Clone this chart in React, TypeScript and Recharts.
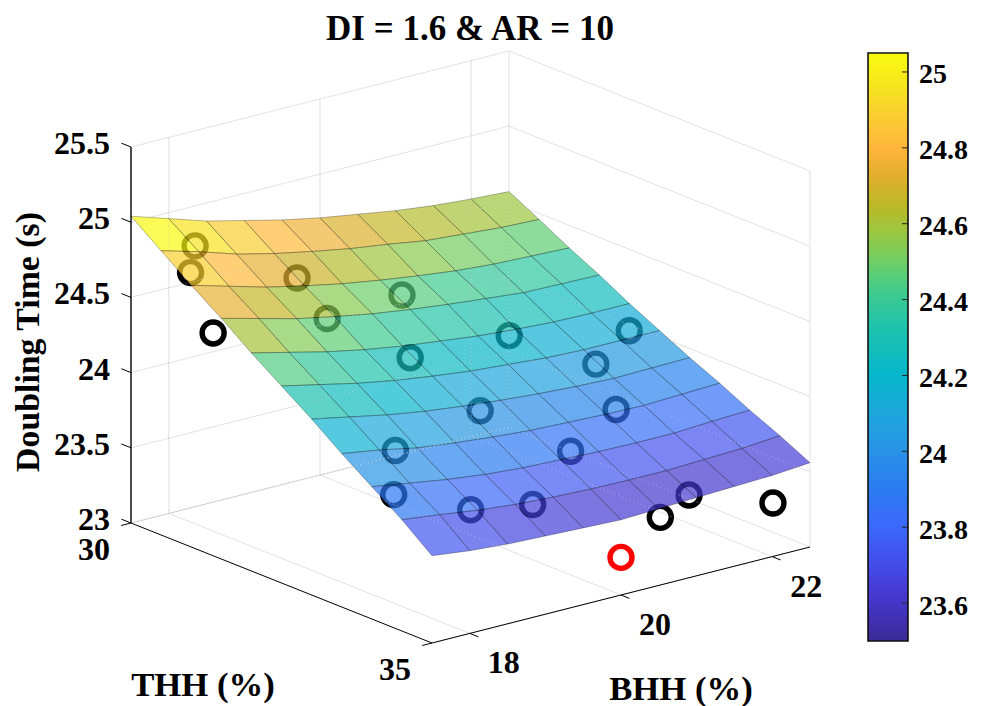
import React from 'react';
import { BarChart, Bar, ScatterChart, Scatter, XAxis, YAxis } from 'recharts';

// grid of the fitted surface
const thhGrid = [30, 30.5, 31, 31.5, 32, 32.5, 33, 33.5, 34, 34.5, 35];
const bhhGrid = [17.5, 18, 18.5, 19, 19.5, 20, 20.5, 21, 21.5, 22, 22.5];
// doubling time, one row per THH value, one column per BHH value
const surfaceTime = [
  [25.04, 24.96, 24.88, 24.82, 24.76, 24.71, 24.67, 24.63, 24.6, 24.58, 24.565],
  [24.89, 24.82, 24.74, 24.68, 24.63, 24.585, 24.55, 24.51, 24.49, 24.47, 24.46],
  [24.74, 24.67, 24.6, 24.545, 24.495, 24.455, 24.42, 24.39, 24.37, 24.36, 24.35],
  [24.6, 24.535, 24.47, 24.42, 24.375, 24.34, 24.31, 24.285, 24.26, 24.255, 24.25],
  [24.45, 24.39, 24.33, 24.28, 24.24, 24.21, 24.18, 24.16, 24.145, 24.14, 24.14],
  [24.31, 24.255, 24.2, 24.155, 24.12, 24.09, 24.07, 24.05, 24.04, 24.04, 24.04],
  [24.17, 24.12, 24.07, 24.03, 24.0, 23.975, 23.955, 23.94, 23.93, 23.935, 23.94],
  [24.02, 23.98, 23.93, 23.9, 23.875, 23.855, 23.845, 23.835, 23.83, 23.84, 23.85],
  [23.88, 23.84, 23.8, 23.77, 23.75, 23.74, 23.73, 23.725, 23.725, 23.74, 23.75],
  [23.74, 23.71, 23.675, 23.65, 23.635, 23.625, 23.62, 23.62, 23.63, 23.64, 23.66],
  [23.58, 23.55, 23.53, 23.52, 23.51, 23.5, 23.51, 23.52, 23.53, 23.54, 23.56],
];

// measured samples
const sampleThh = [30.5, 30.5, 31, 31, 31.5, 31.5, 32, 32, 32.5, 33, 33, 33.5, 33.5, 34, 34, 34.5, 34.5, 35, 35, 35];
const sampleBhh = [17.95, 17.89, 17.79, 18.9, 18.9, 19.89, 19.6, 20.91, 22.1, 21.26, 19.73, 21.13, 18.21, 20.13, 17.79, 18.41, 19.23, 20.9, 20.52, 22.01];
const sampleTime = [24.865, 24.695, 24.386, 24.61, 24.42, 24.45, 24.15, 24.13, 24.09, 24.055, 23.94, 23.85, 23.95, 23.78, 23.79, 23.69, 23.62, 23.55, 23.45, 23.355];
const bestThh = [35];
const bestBhh = [20];
const bestTime = [23.25];

const timeTicks = [23, 23.5, 24, 24.5, 25, 25.5];
const thhTicks = [30, 35];
const bhhTicks = [18, 20, 22];
const colorbarTicks = [23.6, 23.8, 24, 24.2, 24.4, 24.6, 24.8, 25];
const colorbarDomain = [23.5, 25.05];

const mapValues = [25.05, 24.95, 24.85, 24.8, 24.72, 24.65, 24.58, 24.5, 24.42, 24.33, 24.2, 24.1, 24, 23.9, 23.8, 23.72, 23.62, 23.5];
const mapColors = ['#f9fb0e', '#f6e122', '#fcc436', '#ffb53b', '#dfae2c', '#bdb926', '#9dc63f', '#6fcf66', '#3fcb8e', '#1fc3ab', '#06b6cc', '#1ea7dc', '#2992e6', '#2b7cf2', '#3c68fb', '#4350ee', '#4638cf', '#3c2a96'];

const SERIF = '"Liberation Serif", serif';

function hexToRgb(hex: string) {
  return [1, 3, 5].map((i) => parseInt(hex.slice(i, i + 2), 16));
}

function colorOf(value: number) {
  for (let i = 0; i < mapValues.length - 1; i++) {
    if (value <= mapValues[i] && value >= mapValues[i + 1]) {
      const t = (mapValues[i] - value) / (mapValues[i] - mapValues[i + 1]);
      const a = hexToRgb(mapColors[i]);
      const b = hexToRgb(mapColors[i + 1]);
      return `rgb(${a.map((c, k) => Math.round(c + (b[k] - c) * t)).join(',')})`;
    }
  }
  return value > mapValues[0] ? mapColors[0] : mapColors[mapColors.length - 1];
}

// fixed view of the 3D box, screen units per data unit
function project(thh: number, bhh: number, time: number) {
  return {
    x: 131 + (thh - 30) * 60.2 + (bhh - 17.5) * 75.6,
    y: 523 + (thh - 30) * 24 - (bhh - 17.5) * 19.2 - (time - 23) * 150.4,
  };
}

const THH_MIN = thhGrid[0];
const THH_MAX = thhGrid[thhGrid.length - 1];
const BHH_MIN = bhhGrid[0];
const BHH_MAX = bhhGrid[bhhGrid.length - 1];
const T_MIN = timeTicks[0];
const T_MAX = timeTicks[timeTicks.length - 1];

const noDot = () => <g />;

const Path3D = ({ pts, stroke, width = 1, opacity = 1, dash }: any) => (
  <Scatter
    data={pts.map((p: number[]) => project(p[0], p[1], p[2]))}
    isAnimationActive={false}
    shape={noDot}
    line={(props: any) => (
      <polyline
        points={props.points.map((q: any) => `${q.x},${q.y}`).join(' ')}
        fill="none"
        stroke={stroke}
        strokeWidth={width}
        strokeOpacity={opacity}
        strokeDasharray={dash}
      />
    )}
  />
);

// recharts only picks up direct children, so these are plain functions returning elements
function line3D(key: string, pts: number[][], stroke: string, width = 1, opacity = 1, dash?: string) {
  return React.cloneElement(Path3D({ pts, stroke, width, opacity, dash }), { key });
}

function gridLines(stroke: string, width: number, opacity: number, dash?: string) {
  const out: React.ReactElement[] = [];
  const p = `${stroke}${dash}`;
  timeTicks.forEach((t) => {
    out.push(line3D(`${p}zl${t}`, [[THH_MIN, BHH_MIN, t], [THH_MIN, BHH_MAX, t], [THH_MAX, BHH_MAX, t]], stroke, width, opacity, dash));
  });
  bhhTicks.forEach((b) => {
    out.push(line3D(`${p}bl${b}`, [[THH_MAX, b, T_MIN], [THH_MIN, b, T_MIN], [THH_MIN, b, T_MAX]], stroke, width, opacity, dash));
  });
  thhTicks.forEach((t) => {
    out.push(line3D(`${p}tl${t}`, [[t, BHH_MIN, T_MIN], [t, BHH_MAX, T_MIN], [t, BHH_MAX, T_MAX]], stroke, width, opacity, dash));
  });
  return out;
}

function surfaceCells() {
  const out: React.ReactElement[] = [];
  for (let i = 0; i < thhGrid.length - 1; i++) {
    for (let j = 0; j < bhhGrid.length - 1; j++) {
      const corners = [
        project(thhGrid[i], bhhGrid[j], surfaceTime[i][j]),
        project(thhGrid[i], bhhGrid[j + 1], surfaceTime[i][j + 1]),
        project(thhGrid[i + 1], bhhGrid[j + 1], surfaceTime[i + 1][j + 1]),
        project(thhGrid[i + 1], bhhGrid[j], surfaceTime[i + 1][j]),
      ];
      const fill = colorOf(surfaceTime[i][j]);
      out.push(
        <Scatter
          key={`cell-${i}-${j}`}
          data={corners}
          isAnimationActive={false}
          shape={noDot}
          line={(props: any) => (
            <polygon
              points={props.points.map((q: any) => `${q.x},${q.y}`).join(' ')}
              fill={fill}
              fillOpacity={0.7}
              stroke="#000"
              strokeOpacity={0.34}
              strokeWidth={0.8}
            />
          )}
        />
      );
    }
  }
  return out;
}

function ringSeries(key: string, thh: number[], bhh: number[], time: number[], color: string) {
  return (
    <Scatter
      key={key}
      data={thh.map((t, i) => project(t, bhh[i], time[i]))}
      isAnimationActive={false}
      shape={(p: any) => <circle cx={p.cx} cy={p.cy} r={11} fill="none" stroke={color} strokeWidth={5.4} />}
    />
  );
}

function tickSeries(key: string, data: any[], dx: number, dy: number, anchor: string, fontSize = 32) {
  return (
    <Scatter
      key={key}
      data={data}
      isAnimationActive={false}
      shape={(p: any) => (
        <text
          x={p.cx + dx}
          y={p.cy + dy}
          textAnchor={anchor}
          dominantBaseline="central"
          fontFamily={SERIF}
          fontWeight="bold"
          fontSize={fontSize}
          fill="#000"
        >
          {p.payload.label}
        </text>
      )}
    />
  );
}

const ColorbarTick = ({ x, y, payload }: any) => (
  <g>
    <line x1={x - 14} x2={x - 8} y1={y} y2={y} stroke="#222" strokeWidth={1} />
    <text x={x + 3} y={y + 2} dominantBaseline="central" fontFamily={SERIF} fontWeight="bold" fontSize={28} fill="#000">
      {payload.value}
    </text>
  </g>
);

export default function App() {
  const axisTicks: React.ReactElement[] = [];
  timeTicks.forEach((t) => {
    axisTicks.push(line3D(`zt${t}`, [[THH_MIN, BHH_MIN, t], [THH_MIN - 0.16, BHH_MIN, t]], '#000'));
  });
  thhTicks.forEach((t) => {
    axisTicks.push(line3D(`tt${t}`, [[t, BHH_MIN, T_MIN], [t, BHH_MIN - 0.13, T_MIN]], '#000'));
  });
  bhhTicks.forEach((b) => {
    axisTicks.push(line3D(`bt${b}`, [[THH_MAX, b, T_MIN], [THH_MAX + 0.14, b, T_MIN]], '#000'));
  });

  return (
    <div style={{ position: 'absolute', left: 0, top: 0, width: 986, height: 706, overflow: 'hidden', background: '#fff' }}>
      <div style={{ position: 'absolute', left: 0, top: 0 }}>
        <ScatterChart width={986} height={706} margin={{ top: 0, right: 0, bottom: 0, left: 0 }}>
          <XAxis type="number" dataKey="x" domain={[0, 986]} hide />
          <YAxis type="number" dataKey="y" domain={[0, 706]} reversed hide />
          {gridLines('#000', 1, 0.13)}
          {ringSeries('samples', sampleThh, sampleBhh, sampleTime, '#000')}
          {ringSeries('best', bestThh, bestBhh, bestTime, '#ff0000')}
          {surfaceCells()}
          {gridLines('#fff', 1, 0.3, '2 2')}
          {line3D('axis-z', [[THH_MIN, BHH_MIN, T_MAX], [THH_MIN, BHH_MIN, T_MIN]], '#000', 1.4)}
          {line3D('axis-thh', [[THH_MIN, BHH_MIN, T_MIN], [THH_MAX, BHH_MIN, T_MIN]], '#000')}
          {line3D('axis-bhh', [[THH_MAX, BHH_MIN, T_MIN], [THH_MAX, BHH_MAX, T_MIN]], '#000')}
          {axisTicks}
          {tickSeries('z-labels', timeTicks.map((t) => ({ ...project(THH_MIN, BHH_MIN, t), label: String(t) })), -21, -4, 'end')}
          {tickSeries('thh-labels', thhTicks.map((t) => ({ ...project(t, BHH_MIN, T_MIN), label: String(t) })), -21, 26, 'end')}
          {tickSeries('bhh-labels', bhhTicks.map((b) => ({ ...project(THH_MAX, b, T_MIN), label: String(b) })), 34, 29, 'middle')}
          <text x={470} y={28} textAnchor="middle" dominantBaseline="central" fontFamily={SERIF} fontWeight="bold" fontSize={35}>
            DI = 1.6 &amp; AR = 10
          </text>
          <text x={203} y={684} textAnchor="middle" dominantBaseline="central" fontFamily={SERIF} fontWeight="bold" fontSize={34.7}>
            THH (%)
          </text>
          <text x={681} y={688} textAnchor="middle" dominantBaseline="central" fontFamily={SERIF} fontWeight="bold" fontSize={34.7}>
            BHH (%)
          </text>
          <text
            x={27}
            y={342}
            textAnchor="middle"
            dominantBaseline="central"
            fontFamily={SERIF}
            fontWeight="bold"
            fontSize={33.8}
            transform="rotate(-90 27 342)"
          >
            Doubling Time (s)
          </text>
        </ScatterChart>
      </div>
      <div style={{ position: 'absolute', left: 850, top: 0 }}>
        <BarChart
          width={136}
          height={706}
          data={[{ name: 'colorbar', range: colorbarDomain }]}
          margin={{ top: 53, right: 0, bottom: 65, left: 18 }}
          barCategoryGap={0}
        >
          <defs>
            <linearGradient id="parulaBar" x1="0" y1="0" x2="0" y2="1">
              {mapValues.map((v, i) => (
                <stop key={v} offset={(colorbarDomain[1] - v) / (colorbarDomain[1] - colorbarDomain[0])} stopColor={mapColors[i]} />
              ))}
            </linearGradient>
          </defs>
          <XAxis dataKey="name" hide />
          <YAxis
            orientation="right"
            width={78}
            type="number"
            domain={colorbarDomain}
            ticks={colorbarTicks}
            interval={0}
            axisLine={false}
            tickLine={false}
            tick={<ColorbarTick />}
          />
          <Bar dataKey="range" fill="url(#parulaBar)" stroke="#111" strokeWidth={1.6} isAnimationActive={false} />
        </BarChart>
      </div>
    </div>
  );
}
